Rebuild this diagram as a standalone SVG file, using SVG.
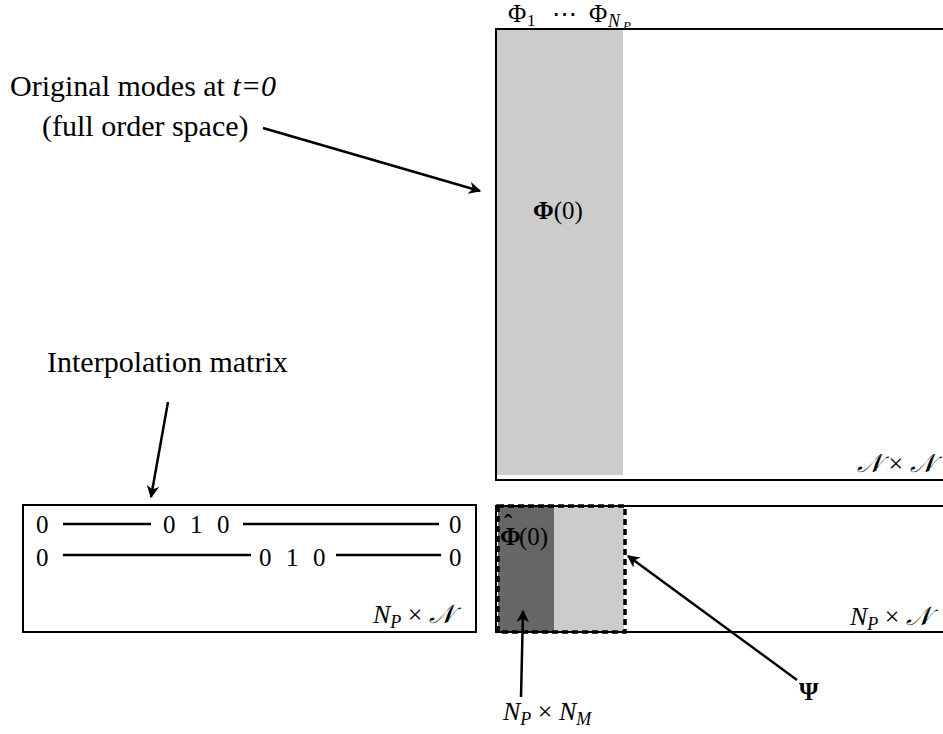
<svg xmlns="http://www.w3.org/2000/svg" width="943" height="734" viewBox="0 0 943 734">
<defs>
<style>
.box{fill:none;stroke:#000;stroke-width:2}
.lbl{font-family:"Liberation Serif","Times New Roman",serif;font-size:30px;fill:#000}
.m{font-family:"Liberation Serif","DejaVu Serif",serif;font-size:25px;fill:#000}
.mi{font-family:"Liberation Serif","DejaVu Serif",serif;font-size:26px;font-style:italic;fill:#000}
.arr{stroke:#000;stroke-width:2.5;fill:none;marker-end:url(#ah)}
.rule{stroke:#000;stroke-width:2.5}
</style>
<marker id="ah" viewBox="0 0 10 10" refX="9" refY="5" markerWidth="5" markerHeight="5" orient="auto" markerUnits="strokeWidth">
<path d="M0,0 L10,5 L0,10 L3,5 z" fill="#000"/>
</marker>
</defs>
<rect width="943" height="734" fill="#fff"/>

<g id="label-original">
<text class="lbl" x="10" y="96">Original modes at <tspan font-style="italic">t=0</tspan></text>
<text class="lbl" x="42" y="136">(full order space)</text>
</g>

<g id="label-interp">
<text class="lbl" x="47" y="372" font-size="31">Interpolation matrix</text>
</g>

<g id="full-matrix">
<rect x="497" y="30" width="126" height="445" fill="#cccccc"/>
<rect class="box" x="496" y="29" width="470" height="451"/>
<text class="m" y="22" font-size="24"><tspan x="508">Φ</tspan><tspan x="527" font-size="17" dy="4">1</tspan><tspan x="552" dy="-4">⋯</tspan><tspan x="589">Φ</tspan><tspan x="608" font-style="italic" font-size="18" dy="5">N</tspan><tspan x="623" font-style="italic" font-size="13" dy="3">P</tspan></text>
<text class="m" x="533" y="219" font-size="26"><tspan font-weight="bold">Φ</tspan>(0)</text>
<text class="mi" x="857" y="472">𝒩 <tspan font-style="normal">×</tspan> 𝒩</text>
</g>

<g id="interp-matrix">
<rect class="box" x="23" y="505" width="453" height="127"/>
<text class="m" x="36" y="533">0</text>
<line class="rule" x1="63" y1="524" x2="151" y2="524"/>
<text class="m" y="533"><tspan x="163">0</tspan><tspan x="190">1</tspan><tspan x="217">0</tspan></text>
<line class="rule" x1="243" y1="524" x2="439" y2="524"/>
<text class="m" x="449" y="533">0</text>
<text class="m" x="36" y="566">0</text>
<line class="rule" x1="63" y1="555" x2="251" y2="555"/>
<text class="m" y="566"><tspan x="259">0</tspan><tspan x="286">1</tspan><tspan x="313">0</tspan></text>
<line class="rule" x1="336" y1="555" x2="441" y2="555"/>
<text class="m" x="449" y="566">0</text>
<text class="mi" x="373" y="623">N<tspan font-size="18" dy="5">P</tspan><tspan font-style="normal" dy="-5"> × </tspan>𝒩</text>
</g>

<g id="reduced-matrix">
<rect x="498" y="506" width="56" height="126" fill="#666666"/>
<rect x="554" y="506" width="70" height="126" fill="#cccccc"/>
<rect class="box" x="496" y="506" width="470" height="126"/>
<rect x="498" y="506" width="127" height="126" fill="none" stroke="#000" stroke-width="3.5" stroke-dasharray="6,4"/>
<text class="m" y="545" font-size="24"><tspan x="500" font-weight="bold">Φ</tspan><tspan x="504" dy="-13" font-weight="bold">ˆ</tspan><tspan x="519" dy="13">(0)</tspan></text>
<text class="mi" x="850" y="625">N<tspan font-size="18" dy="5">P</tspan><tspan font-style="normal" dy="-5"> × </tspan>𝒩</text>
</g>

<g id="label-npnm">
<text class="mi" x="503" y="720">N<tspan font-size="18" dy="5">P</tspan><tspan font-style="normal" dy="-5"> × </tspan>N<tspan font-size="18" dy="5">M</tspan></text>
</g>

<g id="label-psi">
<text class="m" x="799" y="700" font-size="24" font-weight="bold">Ψ</text>
</g>

<g id="connectors">
<line class="arr" x1="263" y1="128" x2="480" y2="191"/>
<line class="arr" x1="168" y1="402" x2="151" y2="497"/>
<line class="arr" x1="521" y1="697" x2="523" y2="611"/>
<line class="arr" x1="797" y1="680" x2="628" y2="556"/>
</g>
</svg>
